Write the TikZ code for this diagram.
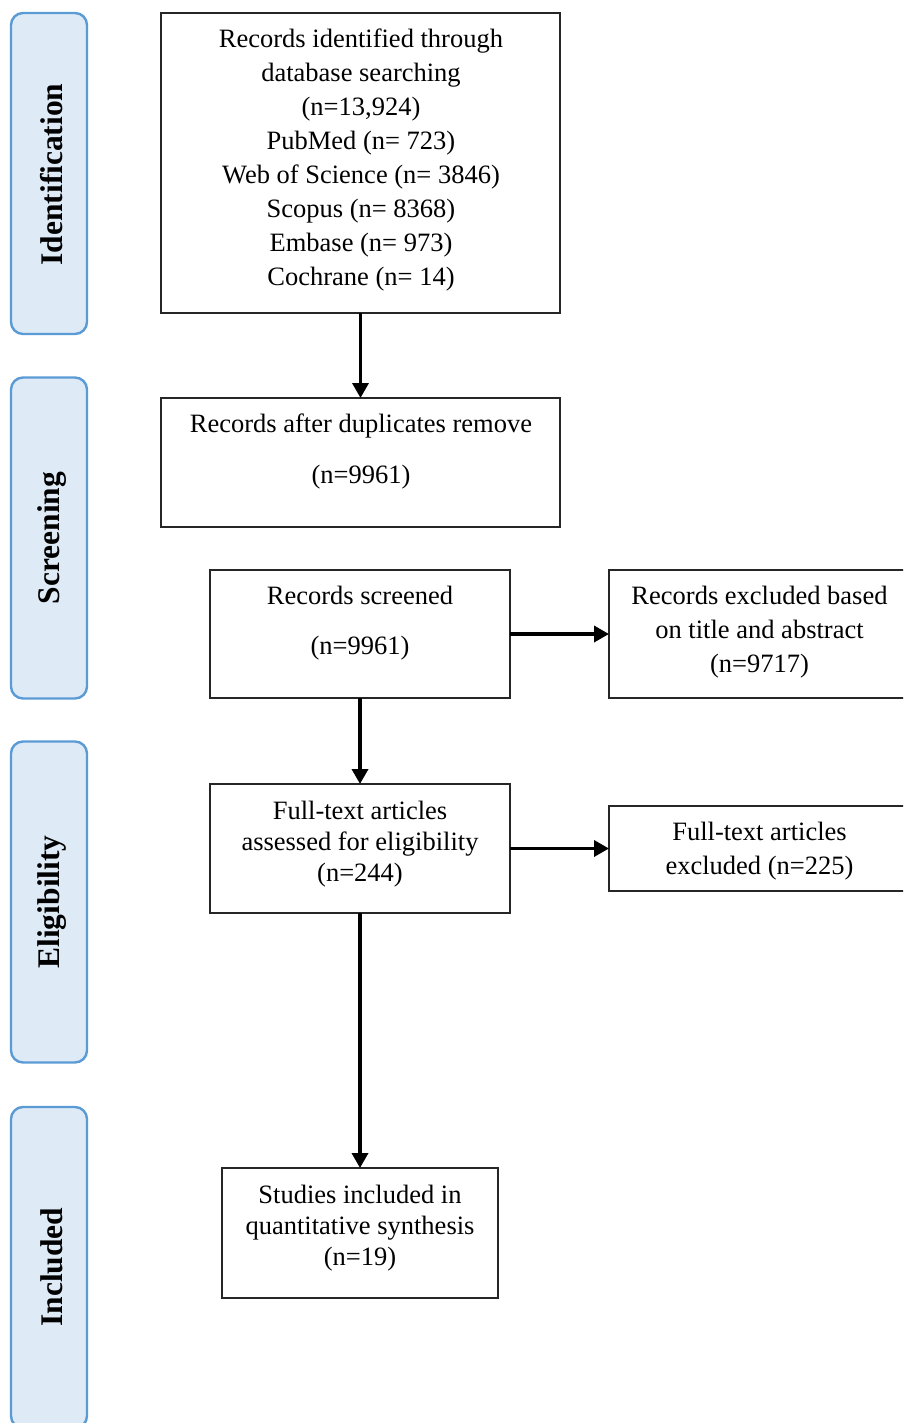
\documentclass[tikz,border=0pt]{standalone}
\usepackage{fontspec}
\setmainfont{Liberation Serif}
\usetikzlibrary{arrows.meta}
\definecolor{stageblue}{HTML}{5B9BD5}
\definecolor{stagefill}{HTML}{DEEBF7}

\begin{document}
\begin{tikzpicture}[x=1pt,y=-1pt,
		stage/.style={draw=stageblue,fill=stagefill,line width=2.4pt,rounded corners=12pt,minimum width=76pt,minimum height=321pt,inner sep=0pt,outer sep=0pt},
		stagetxt/.style={rotate=90,font=\fontsize{31.5}{36}\selectfont\bfseries},
		box/.style={draw=black!85,line width=1.3pt,inner sep=0pt,outer sep=0pt},
		txt/.style={align=center,inner sep=0pt,font=\fontsize{26.5}{34}\selectfont},
		flow/.style={line width=3.5pt,-{Triangle[length=15pt,width=16pt]}}]
	\useasboundingbox (0,0) rectangle (903,1423);
	\clip (0,0) rectangle (903,1423);
					% stages on the left
					\node(sid)[stage] at (49,173.5) {};
					\node(ssc)[stage] at (49,538) {};
					\node(sel)[stage] at (49,902) {};
					\node(sin)[stage] at (49,1267.5) {};
					\node(tid)[stagetxt] at (52,174.5) {Identification};
					\node(tsc)[stagetxt] at (52,538) {Screening};
					\node(tel)[stagetxt] at (52,902) {Eligibility};
					\node(tin)[stagetxt] at (52,1267) {Included};
					% boxes
					\node(ident)[box,minimum width=399pt,minimum height=300pt] at (360.5,163) {};
					\node(dupl)[box,minimum width=399pt,minimum height=129pt] at (360.5,462.5) {};
					\node(scr)[box,minimum width=300pt,minimum height=128pt] at (360,634) {};
					\node(exa)[box,minimum width=300pt,minimum height=128pt] at (759,634) {};
					\node(full)[box,minimum width=300pt,minimum height=129pt] at (360,848.5) {};
					\node(exb)[box,minimum width=300pt,minimum height=85pt] at (759,848.5) {};
					\node(incl)[box,minimum width=276pt,minimum height=130pt] at (360,1233) {};
					% texts
					\node(identtxt)[txt] at (361,159.5) {Records identified through\\database searching\\(n=13,924)\\PubMed (n= 723)\\Web of Science (n= 3846)\\Scopus (n= 8368)\\Embase (n= 973)\\Cochrane (n= 14)};
					\node(dupltxt)[txt,font=\fontsize{26.5}{51}\selectfont] at (361,451.5) {Records after duplicates remove\\(n=9961)};
					\node(scrtxt)[txt,font=\fontsize{26.5}{50}\selectfont] at (360,623) {Records screened\\(n=9961)};
					\node(exatxt)[txt] at (759.5,632) {Records excluded based\\on title and abstract\\(n=9717)};
					\node(fulltxt)[txt,font=\fontsize{26.5}{31}\selectfont] at (360,844) {Full-text articles\\assessed for eligibility\\(n=244)};
					\node(exbtxt)[txt] at (759.5,851) {Full-text articles\\excluded (n=225)};
					\node(incltxt)[txt,font=\fontsize{26.5}{31}\selectfont] at (360,1228) {Studies included in\\quantitative synthesis\\(n=19)};
					% arrows
					\draw[flow] (ident.south) -- (dupl.north);
					\draw[flow] (scr.east) -- (exa.west);
					\draw[flow] (scr.south) -- (full.north);
					\draw[flow] (full.east) -- (exb.west);
					\draw[flow] (full.south) -- (incl.north);
				\end{tikzpicture}
\end{document}
